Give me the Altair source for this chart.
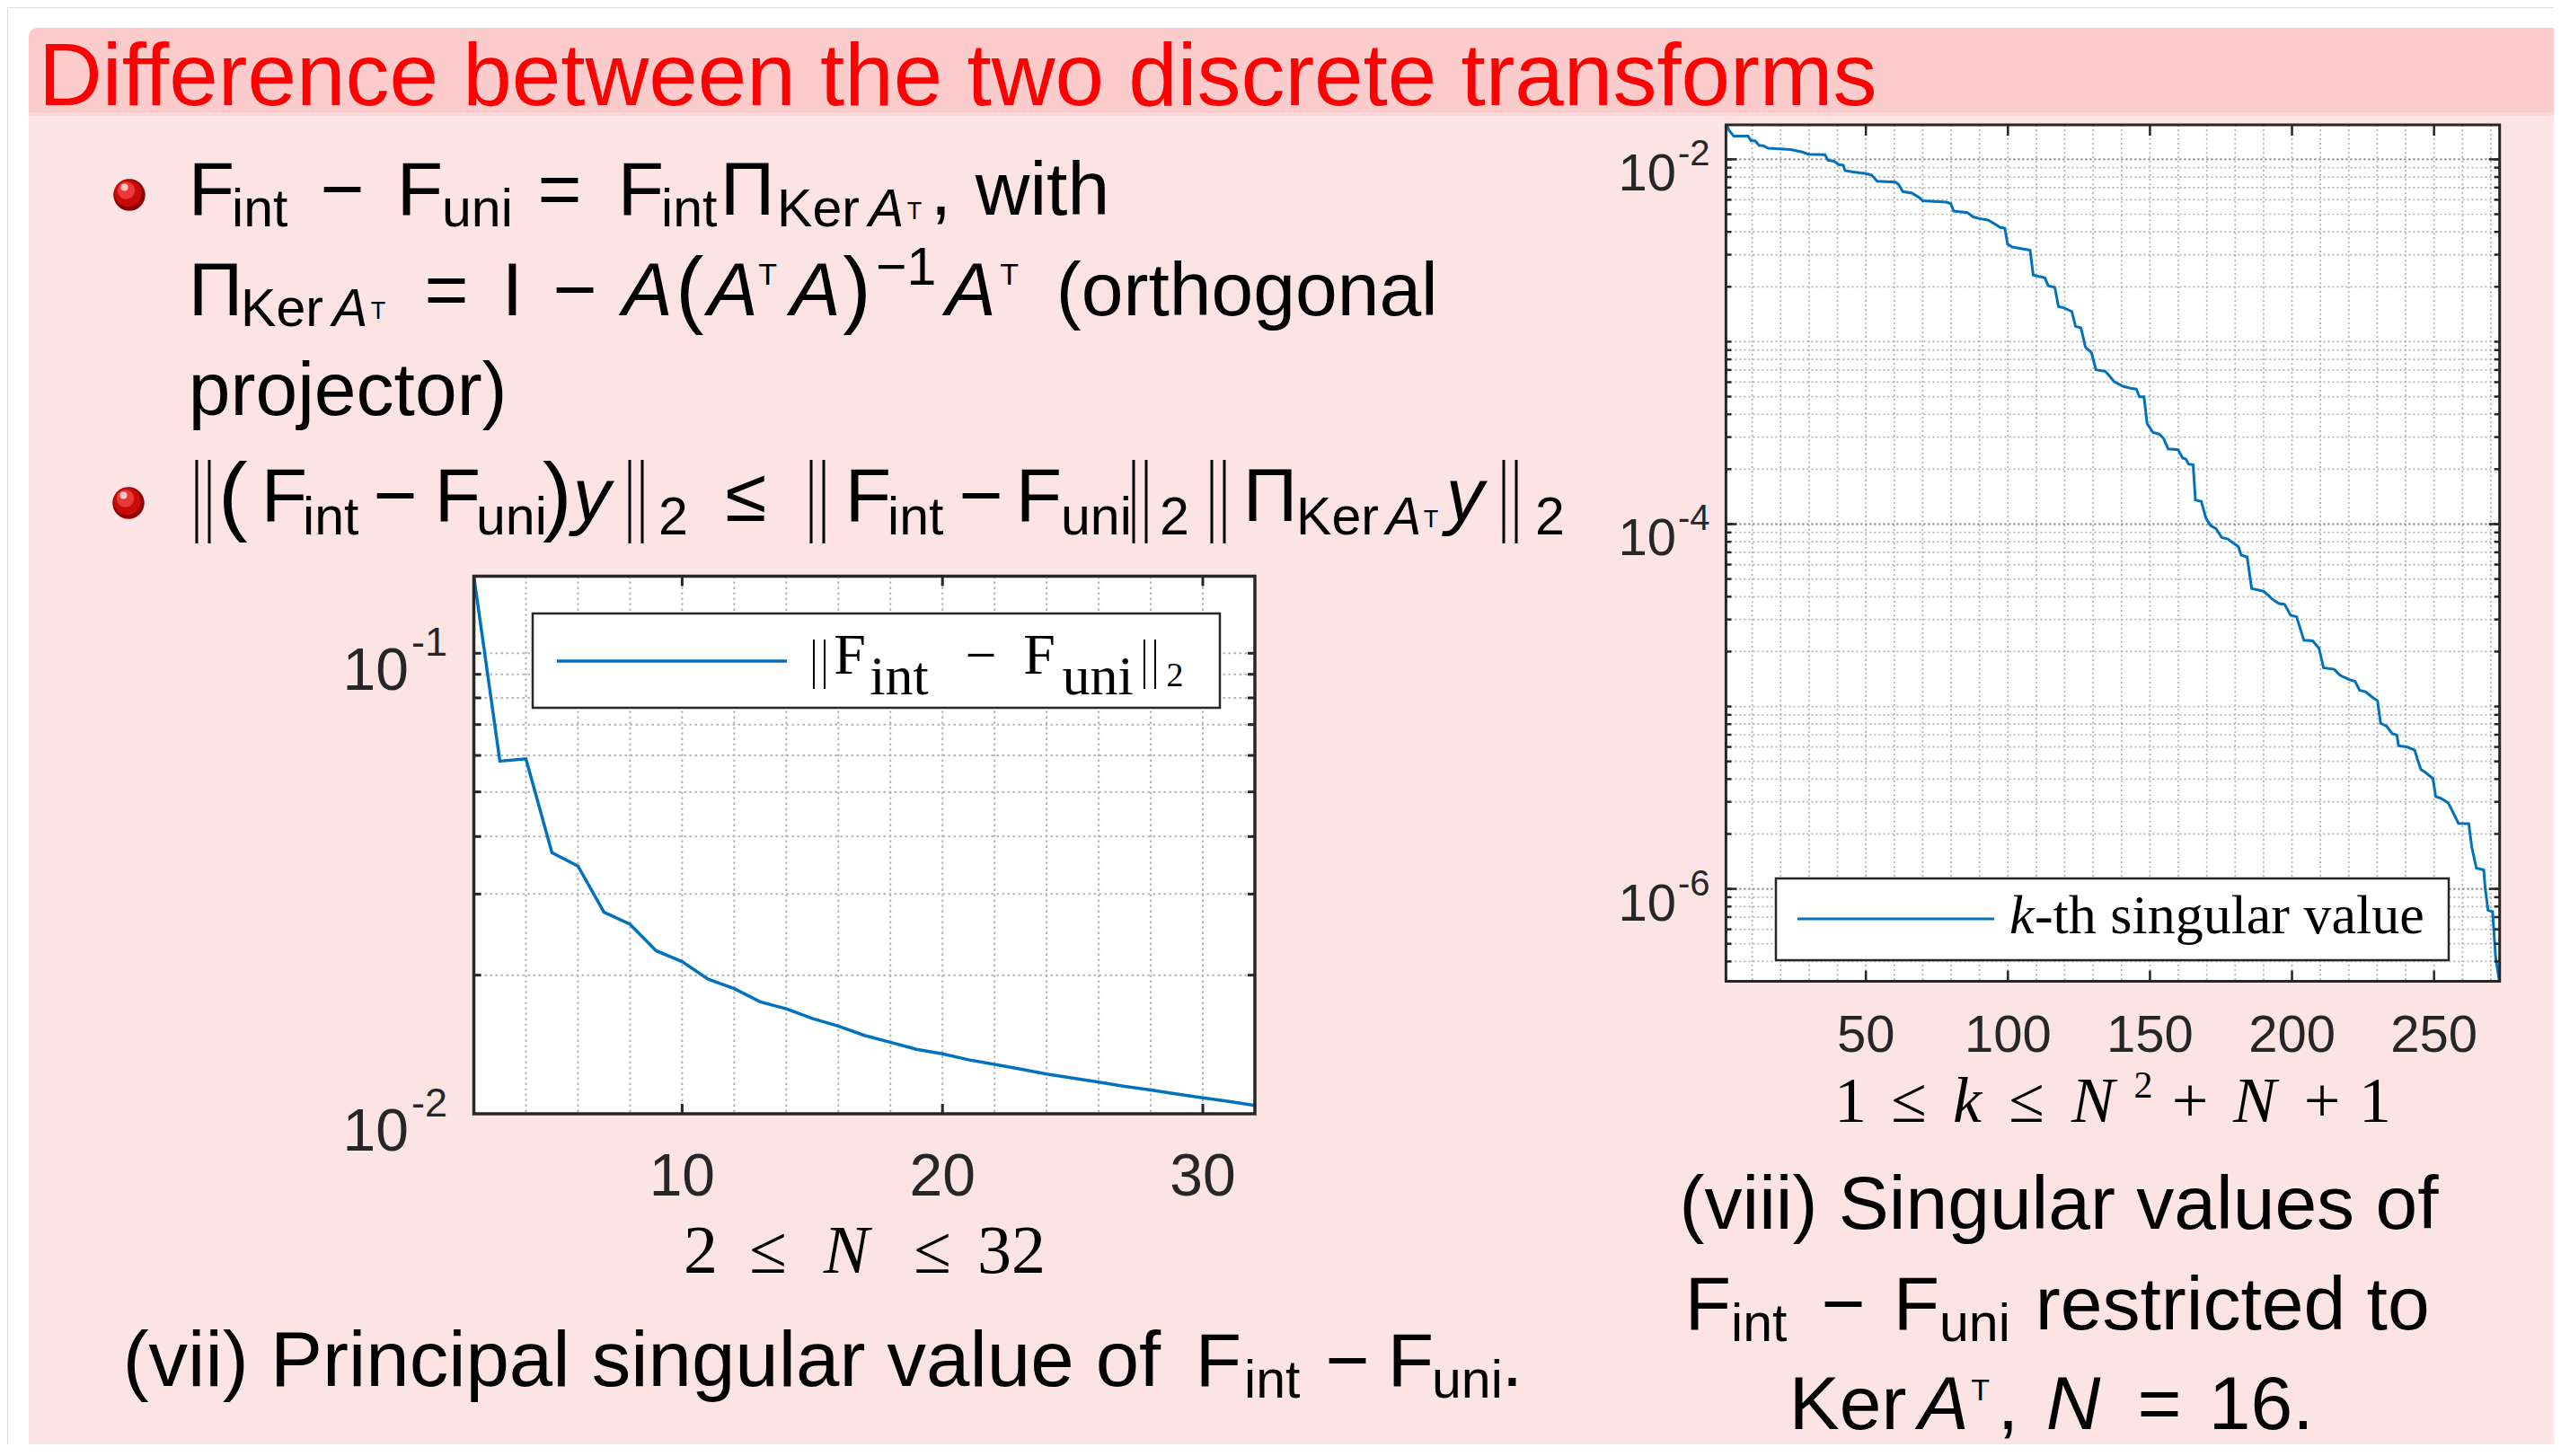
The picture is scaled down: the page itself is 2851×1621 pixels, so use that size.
import altair as alt
import pandas as pd

# ---------------- data ----------------
# (vii) principal singular value of F_int - F_uni, N = 2..32
N_vals = list(range(2, 33))
norm_diff = [0.147, 0.0583, 0.0590, 0.0369, 0.0345, 0.0274, 0.0258, 0.0226, 0.0214, 0.0196,
             0.0187, 0.0175, 0.0169, 0.0161, 0.0155, 0.0148, 0.0143, 0.0138, 0.0135, 0.0131,
             0.0128, 0.0125, 0.0122, 0.01196, 0.01171, 0.01147, 0.01126, 0.01104, 0.01083,
             0.01064, 0.01042]

# (viii) k-th singular value (corners of the staircase), read on the log axis as log10(value)
sv_k = [1, 1.8, 3.5, 8.5, 9.6, 11.0, 12.4, 14.0, 15.6, 23.5, 27.6, 29.8, 35.6, 36.7, 38.7, 40.4,
        42.0, 42.7, 45.6, 49.9, 52.0, 54.0, 60.4, 61.5, 63.0, 66.2, 68.8, 70.0, 78.3, 79.9, 80.9,
        85.7, 87.8, 90.0, 93.0, 95.7, 97.3, 98.9, 99.9, 101.5, 107.8, 108.9, 113.0, 114.2, 116.5,
        117.8, 119.8, 122.5, 123.8, 125.7, 127.3, 129.4, 131.0, 134.2, 135.2, 137.4, 140.5, 143.6,
        145.2, 146.3, 147.9, 149.0, 151.1, 153.2, 154.8, 156.4, 159.9, 161.5, 162.6, 163.6, 165.2,
        166.0, 168.1, 169.7, 171.3, 173.2, 175.3, 177.4, 179.5, 181.1, 182.1, 184.2, 185.8, 190.1,
        193.1, 195.3, 197.4, 199.5, 201.6, 204.2, 207.3, 209.5, 211.1, 214.8, 216.9, 220.1, 222.2,
        223.8, 225.8, 228.5, 230.1, 231.2, 233.3, 235.3, 236.9, 237.5, 240.6, 243.2, 244.3, 245.4,
        247.0, 249.6, 250.6, 252.2, 254.9, 256.0, 258.6, 262.2, 263.3, 264.9, 267.5, 268.0, 269.0,
        270.6, 271.7, 273.0]
sv_log10 = [-1.811, -1.84, -1.873, -1.873, -1.898, -1.898, -1.923, -1.926, -1.939, -1.947, -1.960,
            -1.972, -1.975, -2.005, -2.010, -2.029, -2.032, -2.062, -2.070, -2.078, -2.086, -2.120,
            -2.125, -2.137, -2.177, -2.185, -2.210, -2.227, -2.235, -2.243, -2.284, -2.292, -2.316,
            -2.325, -2.333, -2.358, -2.374, -2.378, -2.465, -2.481, -2.498, -2.635, -2.650, -2.694,
            -2.702, -2.807, -2.815, -2.834, -2.916, -2.924, -3.030, -3.060, -3.154, -3.162, -3.178,
            -3.219, -3.244, -3.257, -3.260, -3.302, -3.302, -3.449, -3.498, -3.506, -3.530, -3.588,
            -3.592, -3.638, -3.643, -3.671, -3.675, -3.868, -3.876, -3.967, -4.008, -4.024, -4.074,
            -4.082, -4.106, -4.123, -4.170, -4.180, -4.353, -4.369, -4.412, -4.435, -4.440, -4.500,
            -4.508, -4.637, -4.640, -4.681, -4.788, -4.796, -4.829, -4.853, -4.862, -4.911, -4.919,
            -4.952, -4.968, -5.092, -5.108, -5.149, -5.157, -5.215, -5.223, -5.239, -5.297, -5.346,
            -5.362, -5.395, -5.494, -5.502, -5.527, -5.559, -5.641, -5.642, -5.772, -5.886, -5.896,
            -5.994, -6.117, -6.125, -6.379, -6.507]

# axes / ticks
L_xdomain = [2, 32]
L_ydomain = [0.01, 0.147]
L_xgrid = [4, 6, 8, 10, 12, 14, 16, 18, 20, 22, 24, 26, 28, 30]
L_xticks = [10, 20, 30]
L_xlabels = ["10", "20", "30"]
L_ygrid = [0.02, 0.03, 0.04, 0.05, 0.06, 0.07, 0.08, 0.09, 0.1]
L_yticks = [0.1, 0.01]
L_yexp = ["-1", "-2"]

R_xdomain = [1, 273]
R_ydomain = [3.11e-7, 0.01545]
R_xgrid = [10, 20, 30, 40, 50, 60, 70, 80, 90, 100, 110, 120, 130, 140, 150, 160, 170, 180, 190,
           200, 210, 220, 230, 240, 250, 260, 270]
R_xticks = [50, 100, 150, 200, 250]
R_xlabels = ["50", "100", "150", "200", "250"]
R_ygrid = [m * 10.0 ** e for e in range(-7, -1) for m in range(1, 10)
           if R_ydomain[0] <= m * 10.0 ** e <= R_ydomain[1]]
R_yticks = [1e-2, 1e-4, 1e-6]
R_yexp = ["-2", "-4", "-6"]

# ---------------- layout / style ----------------
W, H = 2835, 1600
SANS = "Liberation Sans"
SERIF = "Liberation Serif"
INK = "#262626"
BLUE = "#0072BD"
GRID = "#B4B4B4"
GRIDMAJ = "#8A8A8A"
RED = "#FF0000"

def P(v):
    return v - 8

one = pd.DataFrame({"o": [0]})
layers = []

def box(x1, y1, x2, y2, **kw):
    layers.append(alt.Chart(one).mark_rect(**kw).encode(
        x=alt.value(P(x1)), x2=alt.value(P(x2)), y=alt.value(P(y1)), y2=alt.value(P(y2))))

def seg(x1, y1, x2, y2, color, width):
    layers.append(alt.Chart(one).mark_rule(color=color, strokeWidth=width).encode(
        x=alt.value(P(x1)), y=alt.value(P(y1)), x2=alt.value(P(x2)), y2=alt.value(P(y2))))

def bars(x, y1, y2, width=3, gap=14, color="black"):
    # a double vertical bar (norm delimiter)
    seg(x, y1, x, y2, color, width)
    seg(x + gap, y1, x + gap, y2, color, width)

def dot(x, y, r, color):
    layers.append(alt.Chart(one).mark_circle(color=color, opacity=1).encode(
        x=alt.value(P(x)), y=alt.value(P(y)), size=alt.value(3.1416 * r * r)))

def T(s, x, y, size, font=SANS, italic=False, align="left", color="black"):
    kw = dict(text=s, fontSize=size, font=font, align=align, baseline="alphabetic", color=color)
    if italic:
        kw["fontStyle"] = "italic"
    xx = x - 0.05 * size if align == "left" else x
    layers.append(alt.Chart(one).mark_text(**kw).encode(x=alt.value(P(xx)), y=alt.value(P(y))))

# ---------------- slide background ----------------
box(32, 31, 2860, 1612, fill="#FDE4E4", cornerRadiusTopLeft=10)
box(32, 31, 2860, 125, fill="#FCCBCB", cornerRadiusTopLeft=10)
box(32, 125, 2860, 129, fill="#FCD8D8")
box(32, 1612, 2860, 1630, fill="#B4B4B4")

# ---------------- left plot ----------------
LX0, LX1, LY0, LY1 = 527.5, 1397.0, 641.5, 1240.0
xs1 = alt.Scale(domain=L_xdomain, range=[P(LX0), P(LX1)], nice=False, zero=False)
ys1 = alt.Scale(type="log", domain=L_ydomain, range=[P(LY1), P(LY0)], nice=False)

box(LX0, LY0, LX1, LY1, fill="white")
layers.append(alt.Chart(pd.DataFrame({"g": L_xgrid})).mark_rule(
    color=GRID, strokeWidth=2, strokeDash=[2.5, 3.5]).encode(
    x=alt.X("g:Q", scale=xs1, axis=None), y=alt.value(P(LY0)), y2=alt.value(P(LY1))))
layers.append(alt.Chart(pd.DataFrame({"g": L_ygrid})).mark_rule(
    color=GRID, strokeWidth=2, strokeDash=[2.5, 3.5]).encode(
    y=alt.Y("g:Q", scale=ys1, axis=None), x=alt.value(P(LX0)), x2=alt.value(P(LX1))))
layers.append(alt.Chart(pd.DataFrame({"N": N_vals, "v": norm_diff})).mark_line(
    color=BLUE, strokeWidth=3.5).encode(
    x=alt.X("N:Q", scale=xs1, axis=None), y=alt.Y("v:Q", scale=ys1, axis=None)))
for yb, yt in [(LY1, LY1 - 11), (LY0, LY0 + 11)]:
    layers.append(alt.Chart(pd.DataFrame({"g": L_xticks})).mark_rule(color=INK, strokeWidth=3).encode(
        x=alt.X("g:Q", scale=xs1, axis=None), y=alt.value(P(yb)), y2=alt.value(P(yt))))
for xa, xb in [(LX0, LX0 + 8), (LX1, LX1 - 8)]:
    layers.append(alt.Chart(pd.DataFrame({"g": L_ygrid})).mark_rule(color=INK, strokeWidth=3).encode(
        y=alt.Y("g:Q", scale=ys1, axis=None), x=alt.value(P(xa)), x2=alt.value(P(xb))))
box(LX0, LY0, LX1, LY1, fillOpacity=0, stroke=INK, strokeWidth=3.5)
layers.append(alt.Chart(pd.DataFrame({"v": L_xticks, "lab": L_xlabels})).mark_text(
    align="center", baseline="alphabetic", fontSize=66, font=SANS, color=INK).encode(
    x=alt.X("v:Q", scale=xs1, axis=None), y=alt.value(P(1331)), text="lab:N"))
layers.append(alt.Chart(pd.DataFrame({"v": L_yticks, "b": ["10"] * len(L_yticks)})).mark_text(
    align="right", baseline="alphabetic", fontSize=66, font=SANS, color=INK, dy=41).encode(
    y=alt.Y("v:Q", scale=ys1, axis=None), x=alt.value(P(455)), text="b:N"))
layers.append(alt.Chart(pd.DataFrame({"v": L_yticks, "e": L_yexp})).mark_text(
    align="left", baseline="alphabetic", fontSize=45, font=SANS, color=INK, dy=3).encode(
    y=alt.Y("v:Q", scale=ys1, axis=None), x=alt.value(P(458)), text="e:N"))
# legend
box(593, 683, 1358, 788, fill="white", stroke=INK, strokeWidth=2.5)
seg(620, 736, 876, 736, BLUE, 3.5)
bars(906, 712, 767, width=2, gap=12)
T("F", 946, 750, 64, SERIF, align="center")
T("int", 1001, 773, 62, SERIF, align="center")
T("\u2212", 1092, 750, 62, SERIF, align="center")
T("F", 1157, 750, 64, SERIF, align="center")
T("uni", 1222, 773, 62, SERIF, align="center")
bars(1274, 712, 767, width=2, gap=12)
T("2", 1308, 764, 38, SERIF, align="center")
# axis title 2 <= N <= 32
T("2", 780, 1417, 76, SERIF, align="center")
T("\u2264", 855, 1417, 76, SERIF, align="center")
T("N", 942, 1417, 76, SERIF, italic=True, align="center")
T("\u2264", 1038, 1417, 76, SERIF, align="center")
T("32", 1126, 1417, 76, SERIF, align="center")

# ---------------- right plot ----------------
RX0, RX1, RY0, RY1 = 1921.4, 2782.7, 139.0, 1092.6
xs2 = alt.Scale(domain=R_xdomain, range=[P(1922.2), P(2782.4)], nice=False, zero=False)
ys2 = alt.Scale(type="log", domain=R_ydomain, range=[P(RY1), P(RY0)], nice=False)

box(RX0, RY0, RX1, RY1, fill="white")
layers.append(alt.Chart(pd.DataFrame({"g": R_xgrid})).mark_rule(
    color=GRID, strokeWidth=1.7, strokeDash=[2, 3]).encode(
    x=alt.X("g:Q", scale=xs2, axis=None), y=alt.value(P(RY0)), y2=alt.value(P(RY1))))
layers.append(alt.Chart(pd.DataFrame({"g": R_ygrid})).mark_rule(
    color=GRID, strokeWidth=1.7, strokeDash=[2, 3]).encode(
    y=alt.Y("g:Q", scale=ys2, axis=None), x=alt.value(P(RX0)), x2=alt.value(P(RX1))))
layers.append(alt.Chart(pd.DataFrame({"g": R_yticks})).mark_rule(
    color=GRIDMAJ, strokeWidth=1.9, strokeDash=[2, 3]).encode(
    y=alt.Y("g:Q", scale=ys2, axis=None), x=alt.value(P(RX0)), x2=alt.value(P(RX1))))
sv_df = pd.DataFrame({"k": sv_k, "v": [10.0 ** e for e in sv_log10]})
layers.append(alt.Chart(sv_df).mark_line(color=BLUE, strokeWidth=3).encode(
    x=alt.X("k:Q", scale=xs2, axis=None), y=alt.Y("v:Q", scale=ys2, axis=None)))
for yb, yt in [(RY1, RY1 - 12), (RY0, RY0 + 12)]:
    layers.append(alt.Chart(pd.DataFrame({"g": R_xticks})).mark_rule(color=INK, strokeWidth=2.5).encode(
        x=alt.X("g:Q", scale=xs2, axis=None), y=alt.value(P(yb)), y2=alt.value(P(yt))))
for xa, xb in [(RX0, RX0 + 6), (RX1, RX1 - 6)]:
    layers.append(alt.Chart(pd.DataFrame({"g": R_ygrid})).mark_rule(color=INK, strokeWidth=2.5).encode(
        y=alt.Y("g:Q", scale=ys2, axis=None), x=alt.value(P(xa)), x2=alt.value(P(xb))))
for xa, xb in [(RX0, RX0 + 12), (RX1, RX1 - 12)]:
    layers.append(alt.Chart(pd.DataFrame({"g": R_yticks})).mark_rule(color=INK, strokeWidth=2.5).encode(
        y=alt.Y("g:Q", scale=ys2, axis=None), x=alt.value(P(xa)), x2=alt.value(P(xb))))
box(RX0, RY0, RX1, RY1, fillOpacity=0, stroke=INK, strokeWidth=3)
layers.append(alt.Chart(pd.DataFrame({"v": R_xticks, "lab": R_xlabels})).mark_text(
    align="center", baseline="alphabetic", fontSize=58, font=SANS, color=INK).encode(
    x=alt.X("v:Q", scale=xs2, axis=None), y=alt.value(P(1171)), text="lab:N"))
layers.append(alt.Chart(pd.DataFrame({"v": R_yticks, "b": ["10"] * len(R_yticks)})).mark_text(
    align="right", baseline="alphabetic", fontSize=58, font=SANS, color=INK, dy=35).encode(
    y=alt.Y("v:Q", scale=ys2, axis=None), x=alt.value(P(1866)), text="b:N"))
layers.append(alt.Chart(pd.DataFrame({"v": R_yticks, "e": R_yexp})).mark_text(
    align="left", baseline="alphabetic", fontSize=40, font=SANS, color=INK, dy=7).encode(
    y=alt.Y("v:Q", scale=ys2, axis=None), x=alt.value(P(1868)), text="e:N"))
# legend
box(1977, 978, 2726, 1069, fill="white", stroke=INK, strokeWidth=2.5)
seg(2001, 1023, 2220, 1023, BLUE, 3)
T("k", 2240, 1039, 62, SERIF, italic=True)
T("-th singular value", 2268, 1039, 62, SERIF)
# axis title 1 <= k <= N^2 + N + 1
T("1", 2060, 1249, 72, SERIF, align="center")
T("\u2264", 2125, 1249, 72, SERIF, align="center")
T("k", 2190, 1249, 72, SERIF, italic=True, align="center")
T("\u2264", 2256, 1249, 72, SERIF, align="center")
T("N", 2330, 1249, 72, SERIF, italic=True, align="center")
T("2", 2386, 1222, 42, SERIF, align="center")
T("+", 2438, 1249, 72, SERIF, align="center")
T("N", 2510, 1249, 72, SERIF, italic=True, align="center")
T("+", 2585, 1249, 72, SERIF, align="center")
T("1", 2644, 1249, 72, SERIF, align="center")

# ---------------- slide text ----------------
T("Difference between the two discrete transforms", 48, 117, 98, color=RED)

M, S, SUPT, TINY = 84, 59, 34, 27

def bullet(cx, cy):
    dot(cx, cy, 20, "#8E0000")
    dot(cx - 1.5, cy - 2, 17, "#C80A0A")
    dot(cx - 3.5, cy - 5, 11, "#E83A3A")
    dot(cx - 5.5, cy - 8.5, 4.5, "#FFC8C8")

bullet(144, 217)
# line 1
T("F", 214, 239, M); T("int", 261, 252, S)
T("\u2212", 381, 239, M, align="center")
T("F", 446, 239, M); T("uni", 495, 252, S)
T("=", 623, 239, M, align="center")
T("F", 692, 239, M); T("int", 739, 252, S)
T("\u03a0", 806, 239, M)
T("Ker", 868, 252, S); T("A", 970, 252, S, italic=True); T("T", 1011, 244, TINY)
T(",", 1040, 239, M)
T("with", 1090, 239, M)
# line 2
T("\u03a0", 214, 351, M)
T("Ker", 271, 363, S); T("A", 373, 363, S, italic=True); T("T", 414, 355, TINY)
T("=", 497, 351, M, align="center")
T("I", 563, 351, M)
T("\u2212", 640, 351, M, align="center")
T("A", 697, 351, M, italic=True)
T("(", 757, 353, 94)
T("A", 792, 351, M, italic=True); T("T", 846, 317, SUPT)
T("A", 884, 351, M, italic=True)
T(")", 943, 353, 94)
T("\u22121", 978, 317, S)
T("A", 1057, 351, M, italic=True); T("T", 1115, 317, SUPT)
T("(orthogonal", 1180, 351, M)
# line 3
T("projector)", 214, 462, M)

# bullet 2
bullet(143, 560)
BB = 98
BY0, BY1 = 512, 605
bars(219, BY0, BY1)
T("(", 248, 584, BB)
T("F", 295, 580, M); T("int", 340, 595, S)
T("\u2212", 440, 580, M, align="center")
T("F", 488, 580, M); T("uni", 533, 595, S)
T(")", 609, 584, BB)
T("y", 642, 580, M, italic=True)
bars(701, BY0, BY1)
T("2", 736, 595, S)
T("\u2264", 830, 580, M, align="center")
bars(903, BY0, BY1)
T("F", 945, 580, M); T("int", 991, 595, S)
T("\u2212", 1092, 580, M, align="center")
T("F", 1135, 580, M); T("uni", 1184, 595, S)
bars(1262, BY0, BY1)
T("2", 1294, 595, S)
bars(1349, BY0, BY1)
T("\u03a0", 1388, 580, M)
T("Ker", 1446, 595, S); T("A", 1546, 595, S, italic=True); T("T", 1586, 587, TINY)
T("y", 1614, 580, M, italic=True)
bars(1674, BY0, BY1)
T("2", 1712, 595, S)

# caption (vii)
T("(vii) Principal singular value of", 141, 1543, 87)
T("F", 1335, 1543, M); T("int", 1388, 1556, S)
T("\u2212", 1500, 1543, M, align="center")
T("F", 1549, 1543, M); T("uni", 1597, 1556, S)
T(".", 1676, 1543, M)

# caption (viii)
T("(viii) Singular values of", 2292, 1368, 84, align="center")
T("F", 1880, 1480, M); T("int", 1930, 1493, S)
T("\u2212", 2052, 1480, M, align="center")
T("F", 2112, 1480, M); T("uni", 2162, 1493, S)
T("restricted to", 2270, 1480, M)
T("Ker", 1996, 1591, M)
T("A", 2140, 1591, M, italic=True); T("T", 2196, 1559, SUPT)
T(",", 2228, 1591, M)
T("N", 2282, 1591, M, italic=True)
T("=", 2404, 1591, M, align="center")
T("16.", 2463, 1591, M)

chart = alt.layer(*layers).resolve_scale(x="independent", y="independent").properties(
    width=W, height=H, padding=0, autosize=alt.AutoSizeParams(type="none")
).configure_view(strokeWidth=0).configure(background="white")

chart.save("out.html", embed_options={"renderer": "svg", "actions": False})
